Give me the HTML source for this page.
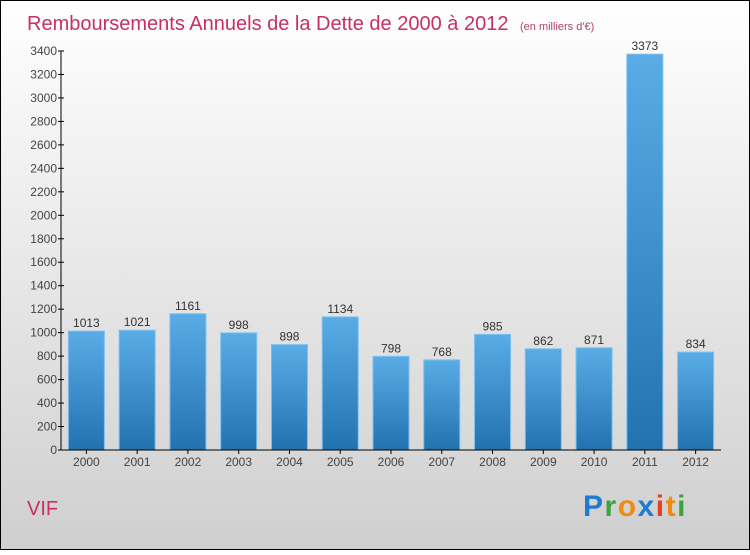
<!DOCTYPE html>
<html><head><meta charset="utf-8"><style>
html,body{margin:0;padding:0;}
body{width:750px;height:550px;overflow:hidden;font-family:"Liberation Sans",sans-serif;}
</style></head><body>
<svg id="chart" width="750" height="550" xmlns="http://www.w3.org/2000/svg">
<defs>
<linearGradient id="bg" x1="0" y1="0" x2="0" y2="1"><stop offset="0" stop-color="#ffffff"/><stop offset="1" stop-color="#cfcfcf"/></linearGradient>
<linearGradient id="bar" x1="0" y1="0" x2="0" y2="1"><stop offset="0" stop-color="#5aace6"/><stop offset="1" stop-color="#2272b0"/></linearGradient>
</defs>
<rect x="0.5" y="0.5" width="749" height="549" fill="url(#bg)" stroke="#000"/>
<text x="27" y="30" font-size="20" fill="#c8305f">Remboursements Annuels de la Dette de 2000 à 2012 <tspan font-size="11" dx="6" fill="#b04070">(en milliers d'€)</tspan></text>
<g id="plot"></g>
<text x="27" y="515" font-size="20" fill="#c8305f">VIF</text>
<g font-size="30" font-weight="bold" font-family="Liberation Sans, sans-serif">
<text x="583" y="516" letter-spacing="1.5"><tspan fill="#1e7cd0">P</tspan><tspan fill="#3aa63a">r</tspan><tspan fill="#f08a10">o</tspan><tspan fill="#1e7cd0">x</tspan><tspan fill="#e8401a">i</tspan><tspan fill="#f08a10">t</tspan><tspan fill="#3aa63a">i</tspan></text>
</g>
</svg>
<script>
const years=["2000","2001","2002","2003","2004","2005","2006","2007","2008","2009","2010","2011","2012"];
const values=[1013,1021,1161,998,898,1134,798,768,985,862,871,3373,834];
const ticks=[0,200,400,600,800,1000,1200,1400,1600,1800,2000,2200,2400,2600,2800,3000,3200,3400];
const NS="http://www.w3.org/2000/svg";
const g=document.getElementById('plot');
const x0=61,x1=721,y0=450,y1=51,max=3400;
const y=v=>y0-(y0-y1)*v/max;
const band=(x1-x0)/years.length;
const xc=i=>x0+band*(i+0.5);
function mk(t,a){const e=document.createElementNS(NS,t);for(const k in a)e.setAttribute(k,a[k]);g.appendChild(e);return e;}
ticks.forEach(t=>{
  const l=mk('line',{x1:x0-3,x2:x0+3,y1:y(t),y2:y(t),stroke:'#000'});
  
  
  const tx=mk('text',{x:x0-4,y:y(t)+4,'text-anchor':'end','font-size':12,fill:'#444'});
  tx.textContent=t;
  
  
});
values.forEach((v,i)=>{
  const r=mk('rect',{x:xc(i)-18,y:y(v),width:36,height:y0-y(v),fill:'url(#bar)',stroke:'#7cc0ee','stroke-width':1});
  
  
  const vt=mk('text',{x:xc(i),y:y(v)-4,'text-anchor':'middle','font-size':12,fill:'#333'});
  vt.textContent=v;
  
  
  const tk=mk('line',{x1:xc(i),x2:xc(i),y1:y0,y2:y0+4,stroke:'#000'});
  
  
  const xt=mk('text',{x:xc(i),y:y0+16,'text-anchor':'middle','font-size':12,fill:'#444'});
  xt.textContent=years[i];
  
  
});
const ya=mk('line',{x1:x0,x2:x0,y1:y1,y2:y0,stroke:'#000'});


const xa=mk('line',{x1:x0,x2:x1,y1:y0,y2:y0,stroke:'#000'});


</script>
</body></html>
